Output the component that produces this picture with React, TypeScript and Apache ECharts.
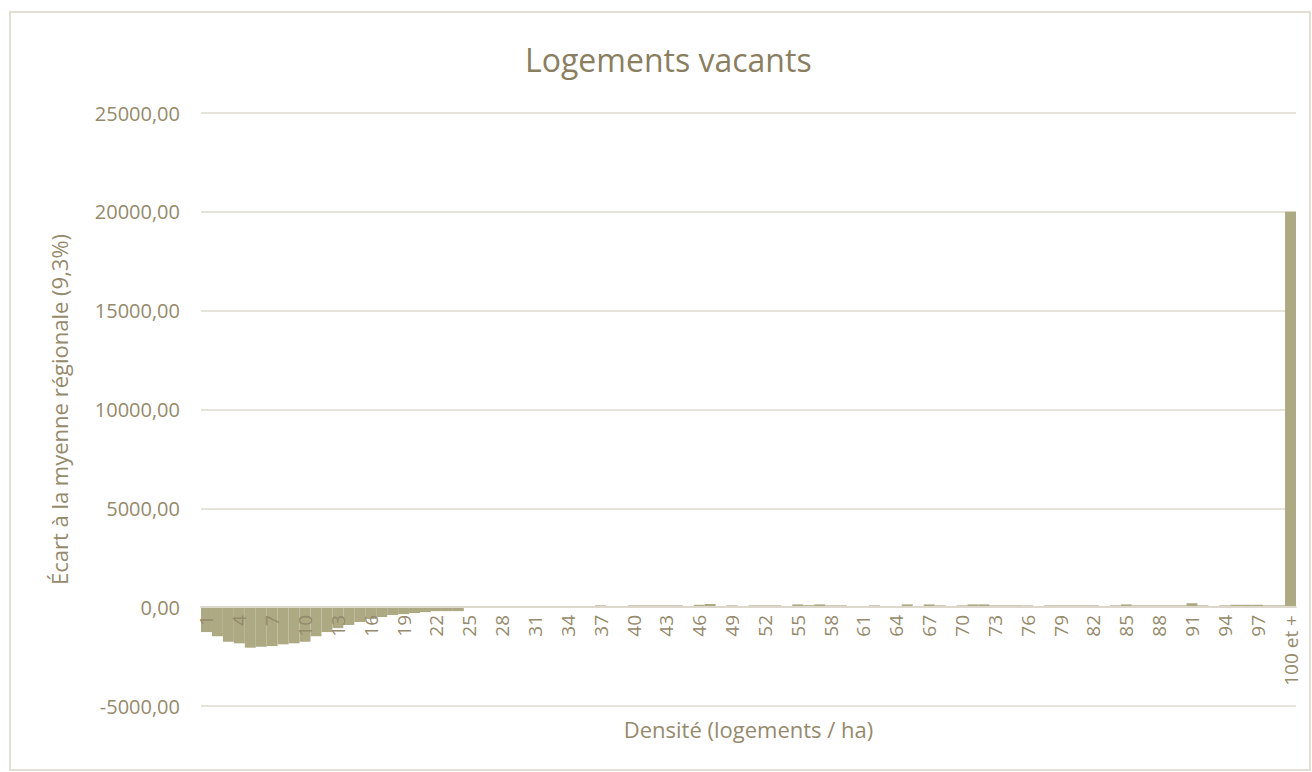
import React, { useEffect, useRef } from "react";
import * as echarts from "echarts";

const titleText = "Logements vacants";
const yAxisName = "Écart à la myenne régionale (9,3%)";
const xAxisName = "Densité (logements / ha)";

const categories: string[] = [];
for (let i = 1; i <= 99; i++) categories.push(String(i));
categories.push("100 et +");

const values: number[] = [
  -1260, -1470, -1750, -1830, -2050, -2000, -1970, -1880, -1830, -1750,
  -1470, -1260, -1060, -900, -750, -600, -500, -400, -350, -300,
  -250, -200, -200, -200, -20, 0, 0, 0, 0, 0,
  0, 0, 0, 0, 0, 0, 90, 0, 0, 90,
  90, 90, 90, 90, 0, 120, 160, 0, 90, 0,
  90, 90, 90, 0, 140, 100, 140, 90, 90, 0,
  0, 90, 0, 0, 140, 0, 140, 90, 0, 90,
  140, 140, 90, 90, 90, 90, 0, 90, 90, 90,
  90, 90, 0, 90, 140, 90, 90, 90, 90, 90,
  200, 90, 0, 90, 120, 120, 120, 90, 90, 20000,
];

const textColor = "#958a6c";

export default function App() {
  const ref = useRef<HTMLDivElement>(null);
  useEffect(() => {
    if (!ref.current) return;
    const chart = echarts.init(ref.current, undefined, { renderer: "svg" });
    chart.setOption({
      animation: false,
      backgroundColor: "#ffffff",
      title: {
        text: titleText,
        left: 520,
        top: 38,
        textStyle: { color: "#8a7e60", fontSize: 32, fontWeight: "normal", fontFamily: "Open Sans" },
      },
      graphic: [
        {
          type: "rect",
          shape: { x: 10, y: 12, width: 1300, height: 758 },
          style: { fill: "none", stroke: "#e2dfd5", lineWidth: 2 },
          silent: true,
        },
      ],
      grid: { left: 201, right: 16, top: 113, bottom: 66, outerBoundsMode: "none", containLabel: false },
      xAxis: {
        type: "category",
        data: categories,
        position: "bottom",
        offset: -99,
        z: 10,
        name: xAxisName,
        nameLocation: "middle",
        nameGap: 111,
        nameTextStyle: { color: textColor, fontSize: 22, fontFamily: "Open Sans" },
        axisLine: { onZero: false, lineStyle: { color: "#dcd8cc", width: 2 } },
        axisTick: { show: false },
        axisLabel: {
          interval: 2,
          rotate: 90,
          margin: 8,
          color: textColor,
          fontSize: 19,
          fontFamily: "Open Sans",
        },
      },
      yAxis: {
        type: "value",
        min: -5000,
        max: 25000,
        interval: 5000,
        name: yAxisName,
        nameLocation: "middle",
        nameGap: 131,
        nameTextStyle: { color: textColor, fontSize: 22, fontFamily: "Open Sans" },
        axisLine: { show: false },
        axisTick: { show: false },
        splitLine: { lineStyle: { color: "#e6e3da", width: 2 } },
        axisLabel: {
          margin: 21,
          color: textColor,
          fontSize: 20,
          fontFamily: "Open Sans",
          formatter: (v: number) => v.toFixed(2).replace(".", ","),
        },
      },
      series: [
        {
          type: "bar",
          data: values,
          barCategoryGap: "0%",
          z: 2,
          itemStyle: { color: "#aca983" },
        },
      ],
    });
    return () => chart.dispose();
  }, []);
  return (
    <div
      ref={ref}
      style={{ position: "fixed", left: 0, top: 0, width: 1312, height: 772 }}
    />
  );
}
